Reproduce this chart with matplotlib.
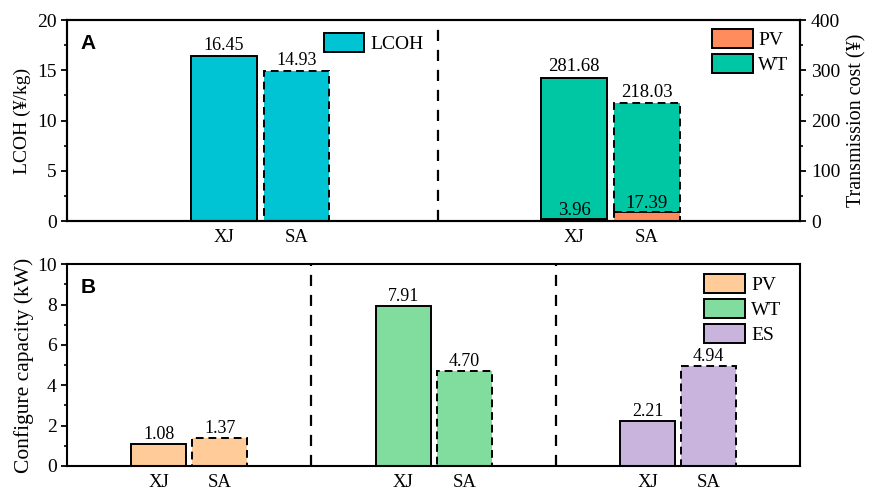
import matplotlib
matplotlib.use("Agg")
import matplotlib.pyplot as plt
from matplotlib.patches import Patch
from matplotlib.ticker import MultipleLocator

plt.rcParams['font.family'] = ['Liberation Serif', 'DejaVu Serif']
plt.rcParams['font.size'] = 13

# ---- data ----
sites = ['XJ', 'SA']
lcoh = [16.45, 14.93]              # yuan/kg
trans_pv = [3.96, 17.39]           # transmission cost, yuan
trans_wt = [281.68, 218.03]
cap_pv = [1.08, 1.37]              # configured capacity, kW
cap_wt = [7.91, 4.70]
cap_es = [2.21, 4.94]

c_lcoh = '#00C3D3'
c_tpv = '#FF8C5C'
c_twt = '#00C7A3'
c_pv = '#FFCC99'
c_wt = '#80DD9D'
c_es = '#C8B4DD'

edge_styles = ['solid', (0, (4, 2.5))]
leg_kw = dict(frameon=False, handlelength=2.1, handleheight=1.15, handletextpad=0.3,
              labelspacing=0.25, borderaxespad=0.2, fontsize=14)

fig = plt.figure(figsize=(8.7, 4.95), dpi=100)

# ---------------- panel A ----------------
axA = fig.add_axes([0.077, 0.5535, 0.843, 0.406])
axA.set_xlim(0, 2)
axA.set_ylim(0, 20)
w = 0.179
xA = [0.428, 0.626]
for i in range(2):
    axA.bar(xA[i], lcoh[i], w, color=c_lcoh, edgecolor='black', linewidth=1.4,
            linestyle=edge_styles[i], zorder=2)
    axA.text(xA[i], lcoh[i] + 0.2, f'{lcoh[i]:.2f}', ha='center', va='bottom')
axA.axvline(1.012, color='black', lw=1.6, ls=(0, (5, 4)))
axA.set_ylabel('LCOH (¥/kg)', fontsize=14, labelpad=4)
axA.yaxis.set_major_locator(MultipleLocator(5))
axA.yaxis.set_minor_locator(MultipleLocator(2.5))

axA2 = axA.twinx()
axA2.set_ylim(0, 400)
xT = [1.383, 1.581]
for i in range(2):
    axA2.bar(xT[i], trans_pv[i], w, color=c_tpv, edgecolor='black', linewidth=1.4,
             linestyle=edge_styles[i], zorder=2)
    axA2.bar(xT[i], trans_wt[i], w, bottom=trans_pv[i], color=c_twt, edgecolor='black',
             linewidth=1.4, linestyle=edge_styles[i], zorder=2)
    axA2.text(xT[i], trans_pv[i] + trans_wt[i] + 4, f'{trans_wt[i]:.2f}',
              ha='center', va='bottom', fontsize=13.5)
    axA2.text(xT[i], trans_pv[i] + 1, f'{trans_pv[i]:.2f}', ha='center', va='bottom',
              fontsize=13.5)
axA2.set_ylabel('Transmission cost (¥)', fontsize=14.5, labelpad=5)
axA2.yaxis.set_major_locator(MultipleLocator(100))
axA2.yaxis.set_minor_locator(MultipleLocator(50))

axA.set_xticks([xA[0], xA[1], xT[0], xT[1]])
axA.set_xticklabels(sites + sites)
axA.tick_params(axis='x', length=0, pad=6)

axA.legend(handles=[Patch(facecolor=c_lcoh, edgecolor='black', linewidth=1.4, label='LCOH')],
           loc='upper left', bbox_to_anchor=(0.334, 0.995), **leg_kw)
axA2.legend(handles=[Patch(facecolor=c_tpv, edgecolor='black', linewidth=1.4, label='PV'),
                     Patch(facecolor=c_twt, edgecolor='black', linewidth=1.4, label='WT')],
            loc='upper right', bbox_to_anchor=(1.0, 1.015), **leg_kw)
axA.text(0.018, 0.93, 'A', transform=axA.transAxes, fontfamily='Liberation Sans',
         fontweight='bold', fontsize=15, va='top', ha='left')

# ---------------- panel B ----------------
axB = fig.add_axes([0.077, 0.0586, 0.843, 0.4074])
axB.set_xlim(0, 3)
axB.set_ylim(0, 10)
wB = 0.225
groups = [(cap_pv, c_pv), (cap_wt, c_wt), (cap_es, c_es)]
ticks = []
for g, (vals, col) in enumerate(groups):
    xs = [g + 0.5 - 0.125, g + 0.5 + 0.125]
    ticks += xs
    for i in range(2):
        axB.bar(xs[i], vals[i], wB, color=col, edgecolor='black', linewidth=1.4,
                linestyle=edge_styles[i], zorder=2)
        axB.text(xs[i], vals[i] + 0.08, f'{vals[i]:.2f}', ha='center', va='bottom')
for xd in (1, 2):
    axB.axvline(xd, color='black', lw=1.6, ls=(0, (5, 4)))
axB.set_xticks(ticks)
axB.set_xticklabels(sites * 3)
axB.tick_params(axis='x', length=0, pad=6)
axB.set_ylabel('Configure capacity (kW)', fontsize=15.5, labelpad=2)
axB.yaxis.set_major_locator(MultipleLocator(2))
axB.yaxis.set_minor_locator(MultipleLocator(1))
axB.legend(handles=[Patch(facecolor=c, edgecolor='black', linewidth=1.4, label=l)
                    for c, l in [(c_pv, 'PV'), (c_wt, 'WT'), (c_es, 'ES')]],
           loc='upper right', bbox_to_anchor=(0.99, 1.01), **leg_kw)
axB.text(0.018, 0.93, 'B', transform=axB.transAxes, fontfamily='Liberation Sans',
         fontweight='bold', fontsize=15, va='top', ha='left')

for ax in (axA, axA2, axB):
    for s in ax.spines.values():
        s.set_linewidth(1.5)
    ax.tick_params(axis='y', which='major', direction='out', length=4, width=1.3, labelsize=14)
    ax.tick_params(axis='y', which='minor', direction='out', length=2.5, width=1.2)
    ax.tick_params(axis='x', labelsize=13.5)

fig.savefig('out.png', dpi=100)
